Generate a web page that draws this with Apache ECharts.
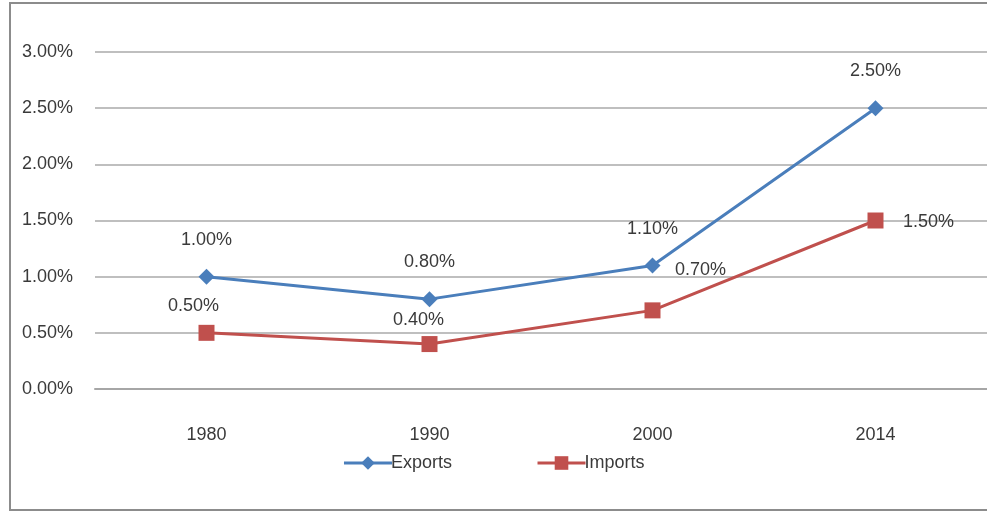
<!DOCTYPE html>
<html>
<head>
<meta charset="utf-8">
<script src="https://cdn.jsdelivr.net/npm/echarts@6/dist/echarts.min.js"></script>
<style>
html,body{margin:0;padding:0;background:#fff;}
#c{width:987px;height:513px;}
</style>
</head>
<body>
<div id="c"></div>
<script>
var categories = ['1980', '1990', '2000', '2014'];
var exportsData = [1.00, 0.80, 1.10, 2.50];
var importsData = [0.50, 0.40, 0.70, 1.50];
var yTicks = { min: 0, max: 3, interval: 0.5 };

var exportLabelOffsets = [[0, -37], [0, -37], [0, -36], [0, -37]];
var importLabelOffsets = [[-13, -27], [-11, -24], [48, -40], [53, 2]];

var FONT = 'Liberation Sans';
var TXT = '#3a3a3a';

function pct(v) { return v.toFixed(2) + '%'; }

function buildData(values, offsets) {
  return values.map(function (v, i) {
    return {
      value: v,
      label: { position: 'inside', offset: offsets[i] }
    };
  });
}

var chart = echarts.init(document.getElementById('c'), null, { renderer: 'canvas' });
chart.setOption({
  animation: false,
  backgroundColor: '#ffffff',
  graphic: [{
    type: 'rect',
    shape: { x: 10, y: 3, width: 1000, height: 507 },
    style: { fill: 'none', stroke: '#8c8c8c', lineWidth: 2 },
    z: -1
  }],
  grid: { left: 95, right: -2, top: 52, bottom: 124, containLabel: false },
  xAxis: {
    type: 'category',
    data: categories,
    boundaryGap: true,
    axisLine: { show: true, lineStyle: { color: '#a6a6a6', width: 2 } },
    axisTick: { show: false },
    axisLabel: { color: TXT, fontFamily: FONT, fontSize: 18, margin: 37 }
  },
  yAxis: {
    type: 'value',
    min: yTicks.min,
    max: yTicks.max,
    interval: yTicks.interval,
    axisLine: { show: false },
    axisTick: { show: false },
    splitLine: { lineStyle: { color: '#bfbfbf', width: 2 } },
    axisLabel: {
      color: TXT, fontFamily: FONT, fontSize: 18, margin: 22,
      formatter: function (v) { return pct(v); }
    }
  },
  legend: {
    bottom: 36,
    left: 'center',
    itemGap: 84,
    itemWidth: 48,
    itemHeight: 17,
    lineStyle: { width: 3 },
    textStyle: { color: TXT, fontFamily: FONT, fontSize: 18, padding: [0, 0, 0, -6] },
    data: ['Exports', 'Imports']
  },
  series: [
    {
      name: 'Exports',
      type: 'line',
      data: buildData(exportsData, exportLabelOffsets),
      symbol: 'diamond',
      symbolSize: 16,
      itemStyle: { color: '#4a7ebb' },
      lineStyle: { color: '#4a7ebb', width: 3 },
      label: {
        show: true, color: TXT, fontFamily: FONT, fontSize: 18,
        formatter: function (p) { return pct(p.value); }
      },
      z: 3
    },
    {
      name: 'Imports',
      type: 'line',
      data: buildData(importsData, importLabelOffsets),
      symbol: 'rect',
      symbolSize: 16,
      itemStyle: { color: '#c0504d' },
      lineStyle: { color: '#c0504d', width: 3 },
      label: {
        show: true, color: TXT, fontFamily: FONT, fontSize: 18,
        formatter: function (p) { return pct(p.value); }
      },
      z: 2
    }
  ]
});
</script>
</body>
</html>
